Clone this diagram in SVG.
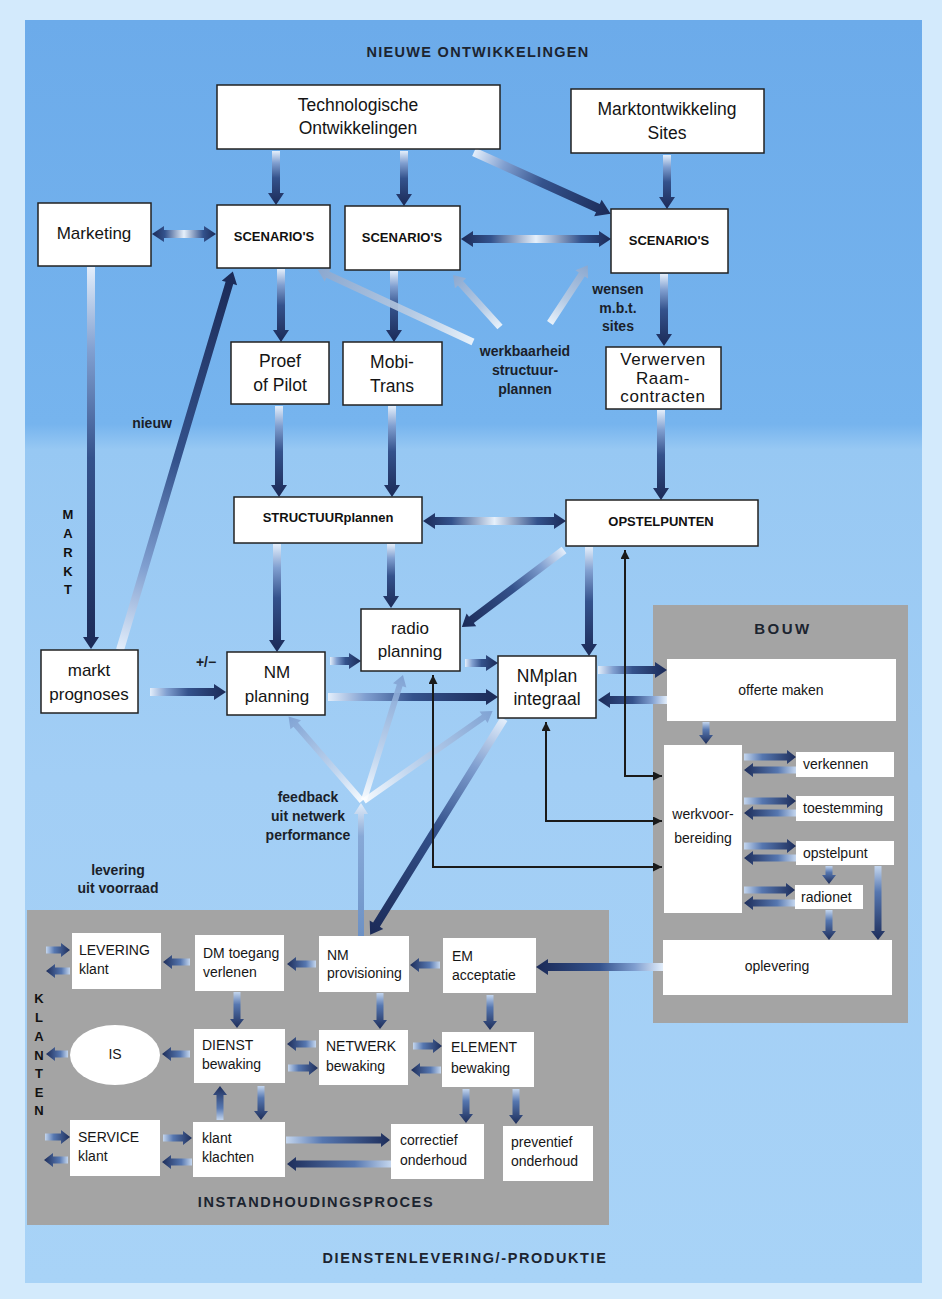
<svg xmlns="http://www.w3.org/2000/svg" width="942" height="1299" viewBox="0 0 942 1299">
  <defs>
    <linearGradient id="bg" x1="0" y1="0" x2="0" y2="1">
      <stop offset="0" stop-color="#6cabea"/>
      <stop offset="0.32" stop-color="#76b4ee"/>
      <stop offset="0.34" stop-color="#97c8f3"/>
      <stop offset="0.6" stop-color="#a2cef5"/>
      <stop offset="1" stop-color="#a8d3f7"/>
    </linearGradient>
    <!-- arrow fills run along local +x (tail to head) -->
    <linearGradient id="gd" x1="0" y1="0" x2="1" y2="0">
      <stop offset="0" stop-color="#e3eefb"/>
      <stop offset="0.22" stop-color="#809fd0"/>
      <stop offset="0.5" stop-color="#34528c"/>
      <stop offset="1" stop-color="#1b2a57"/>
    </linearGradient>
    <linearGradient id="gdd" x1="0" y1="0" x2="1" y2="0">
      <stop offset="0" stop-color="#1b2a57"/>
      <stop offset="0.2" stop-color="#33528c"/>
      <stop offset="0.5" stop-color="#e6f0fb"/>
      <stop offset="0.8" stop-color="#33528c"/>
      <stop offset="1" stop-color="#1b2a57"/>
    </linearGradient>
    <linearGradient id="gs" x1="0" y1="0" x2="1" y2="0">
      <stop offset="0" stop-color="#c4d6ee"/>
      <stop offset="0.35" stop-color="#5677b0"/>
      <stop offset="1" stop-color="#1d2d5a"/>
    </linearGradient>
    <linearGradient id="gf" x1="0" y1="0" x2="1" y2="0">
      <stop offset="0" stop-color="#ffffff"/>
      <stop offset="0.35" stop-color="#c5d7ee"/>
      <stop offset="1" stop-color="#7c9ed0"/>
    </linearGradient>
    <linearGradient id="gfv" x1="0" y1="0" x2="1" y2="0">
      <stop offset="0" stop-color="#6a90c6"/>
      <stop offset="0.75" stop-color="#86a7d5"/>
      <stop offset="1" stop-color="#e6effa"/>
    </linearGradient>
    <linearGradient id="gw" x1="0" y1="0" x2="1" y2="0">
      <stop offset="0" stop-color="#f4f8fc"/>
      <stop offset="0.4" stop-color="#bccde3"/>
      <stop offset="1" stop-color="#8ea7cc"/>
    </linearGradient>
    <marker id="tip" viewBox="0 0 10 10" refX="10" refY="5" markerWidth="11" markerHeight="9" markerUnits="userSpaceOnUse" orient="auto-start-reverse">
      <path d="M0,0L10,5L0,10Z" fill="#1a1a1a"/>
    </marker>
    <style>
      .box { fill: #ffffff; stroke: #222; stroke-width: 1.5; }
      .pbox { fill: #ffffff; }
      .panel { fill: #a4a4a4; }
      .t { font-family: "Liberation Sans", Arial, sans-serif; font-size: 17px; fill: #141414; text-anchor: middle; }
      .tb { font-family: "Liberation Sans", Arial, sans-serif; font-size: 13px; font-weight: bold; fill: #111; text-anchor: middle; }
      .s { font-family: "Liberation Sans", Arial, sans-serif; font-size: 14px; fill: #161616; }
      .sm { font-family: "Liberation Sans", Arial, sans-serif; font-size: 14px; fill: #161616; text-anchor: middle; }
      .lb { font-family: "Liberation Sans", Arial, sans-serif; font-size: 14px; font-weight: bold; fill: #1b1f2a; text-anchor: middle; }
      .title { font-family: "Liberation Sans", Arial, sans-serif; font-size: 14.5px; font-weight: bold; fill: #1c2430; text-anchor: middle; letter-spacing: 1.4px; }
      .a { fill: url(#gd); }
      .d { fill: url(#gdd); }
      .sa { fill: url(#gs); }
      .f { fill: url(#gf); opacity: 0.9; }
      .fv { fill: url(#gfv); opacity: 0.95; }
      .w { fill: url(#gw); opacity: 0.9; }
      .thin { fill: none; stroke: #1a1a1a; stroke-width: 2; marker-start: url(#tip); marker-end: url(#tip); }
    </style>
  </defs>

  <!-- page and background -->
  <rect x="0" y="0" width="942" height="1299" fill="#d3eafc"/>
  <rect x="25" y="20" width="897" height="1263" fill="url(#bg)"/>

  <!-- section titles -->
  <text class="title" x="478" y="57" style="letter-spacing:1.3px">NIEUWE ONTWIKKELINGEN</text>
  <text class="title" x="465" y="1263" style="letter-spacing:1.6px">DIENSTENLEVERING/-PRODUKTIE</text>

  <!-- grey process panels -->
  <g id="panels">
    <rect class="panel" x="653" y="605" width="255" height="418"/>
    <rect class="panel" x="27" y="910" width="582" height="315" fill="#a8a8a8"/>
    <text class="title" x="783" y="634" style="font-size:15px;letter-spacing:2.5px">BOUW</text>
    <text class="title" x="316" y="1207" style="letter-spacing:1.6px">INSTANDHOUDINGSPROCES</text>
  </g>

  <g id="connectors">
    <!-- top layer -->
    <path class="a" transform="translate(276,151) rotate(90)" d="M0,-4H42V-8L54,0L42,8V4H0Z"/>
    <path class="a" transform="translate(404,151) rotate(90)" d="M0,-4H43V-8L55,0L43,8V4H0Z"/>
    <path class="a" transform="translate(474,152) rotate(24.35)" d="M0,-4.5H136V-9L150,0L136,9V4.5H0Z"/>
    <path class="a" transform="translate(667,155) rotate(90)" d="M0,-4H42V-8L54,0L42,8V4H0Z"/>
    <path class="d" transform="translate(152,234)" d="M0,0L12,-8V-4H52V-8L64,0L52,8V4H12V8Z"/>
    <path class="d" transform="translate(461,239)" d="M0,0L12,-8V-4H138V-8L150,0L138,8V4H12V8Z"/>
    <path class="a" transform="translate(281,269) rotate(90)" d="M0,-4H61V-8L73,0L61,8V4H0Z"/>
    <path class="a" transform="translate(394,271) rotate(90)" d="M0,-4H59V-8L71,0L59,8V4H0Z"/>
    <path class="a" transform="translate(664,274) rotate(90)" d="M0,-4H60V-8L72,0L60,8V4H0Z"/>
    <path class="w" transform="translate(473,342) rotate(-155.1)" d="M0,-3.5H160V-7.5L171,0L160,7.5V3.5H0Z"/>
    <path class="w" transform="translate(500,327) rotate(-132.1)" d="M0,-3.5H59V-7.5L70,0L59,7.5V3.5H0Z"/>
    <path class="w" transform="translate(550,323) rotate(-56.8)" d="M0,-3.5H58V-7.5L69,0L58,7.5V3.5H0Z"/>
    <path class="a" transform="translate(279,406) rotate(90)" d="M0,-4H79V-8L91,0L79,8V4H0Z"/>
    <path class="a" transform="translate(392,406) rotate(90)" d="M0,-4H79V-8L91,0L79,8V4H0Z"/>
    <path class="a" transform="translate(661,410) rotate(90)" d="M0,-4H78V-8L90,0L78,8V4H0Z"/>
    <path class="a" transform="translate(91,267) rotate(90)" d="M0,-4H370V-8L382,0L370,8V4H0Z"/>
    <path class="a" transform="translate(120,650) rotate(-73.4)" d="M0,-4H383V-8L395,0L383,8V4H0Z"/>

    <!-- planning layer -->
    <path class="d" transform="translate(423,521)" d="M0,0L12,-8V-4H131V-8L143,0L131,8V4H12V8Z"/>
    <path class="a" transform="translate(277,544) rotate(90)" d="M0,-4H96V-8L108,0L96,8V4H0Z"/>
    <path class="a" transform="translate(391,544) rotate(90)" d="M0,-4H52V-8L64,0L52,8V4H0Z"/>
    <path class="a" transform="translate(564,550) rotate(142.95)" d="M0,-4H116V-8L128,0L116,8V4H0Z"/>
    <path class="a" transform="translate(589,547) rotate(90)" d="M0,-4H97V-8L109,0L97,8V4H0Z"/>
    <path class="a" transform="translate(150,692)" d="M0,-4H64V-8L76,0L64,8V4H0Z"/>
    <path class="a" transform="translate(330,661)" d="M0,-4H19V-8L31,0L19,8V4H0Z"/>
    <path class="a" transform="translate(465,663)" d="M0,-4H21V-8L33,0L21,8V4H0Z"/>
    <path class="a" transform="translate(328,697)" d="M0,-4H158V-8L170,0L158,8V4H0Z"/>
    <path class="a" transform="translate(598,670)" d="M0,-4H57V-8L69,0L57,8V4H0Z"/>
    <path class="a" transform="translate(667,700) rotate(180)" d="M0,-4H57V-8L69,0L57,8V4H0Z"/>

    <!-- feedback from network performance -->
    <path class="fv" transform="translate(361,936) rotate(-90)" d="M0,-3H122V-7L133,0L122,7V3H0Z"/>
    <path class="f" transform="translate(362,801) rotate(-131)" d="M0,-3H101V-7L112,0L101,7V3H0Z"/>
    <path class="f" transform="translate(364,800) rotate(-72.7)" d="M0,-3H120V-7L131,0L120,7V3H0Z"/>
    <path class="f" transform="translate(364,801) rotate(-35)" d="M0,-3H146V-7L157,0L146,7V3H0Z"/>
    <path class="a" transform="translate(504,719) rotate(121.8)" d="M0,-4H242V-8L254,0L242,8V4H0Z"/>
    <path class="a" transform="translate(663,967) rotate(180)" d="M0,-4H115V-8L127,0L115,8V4H0Z"/>

    <!-- thin return lines to werkvoorbereiding -->
    <path class="thin" d="M625,550V776H662"/>
    <path class="thin" d="M546,722V821H662"/>
    <path class="thin" d="M433,675V867H662"/>

    <!-- inside BOUW -->
    <path class="sa" transform="translate(706,722) rotate(90)" d="M0,-3.5H13V-7L22,0L13,7V3.5H0Z"/>
    <path class="sa" transform="translate(744,757)" d="M0,-3.5H43V-7L52,0L43,7V3.5H0Z"/>
    <path class="sa" transform="translate(796,770) rotate(180)" d="M0,-3.5H43V-7L52,0L43,7V3.5H0Z"/>
    <path class="sa" transform="translate(744,801)" d="M0,-3.5H43V-7L52,0L43,7V3.5H0Z"/>
    <path class="sa" transform="translate(796,813) rotate(180)" d="M0,-3.5H43V-7L52,0L43,7V3.5H0Z"/>
    <path class="sa" transform="translate(744,846)" d="M0,-3.5H43V-7L52,0L43,7V3.5H0Z"/>
    <path class="sa" transform="translate(796,858) rotate(180)" d="M0,-3.5H43V-7L52,0L43,7V3.5H0Z"/>
    <path class="sa" transform="translate(744,890)" d="M0,-3.5H42V-7L51,0L42,7V3.5H0Z"/>
    <path class="sa" transform="translate(795,903) rotate(180)" d="M0,-3.5H42V-7L51,0L42,7V3.5H0Z"/>
    <path class="sa" transform="translate(829,866) rotate(90)" d="M0,-3.5H9V-7L18,0L9,7V3.5H0Z"/>
    <path class="sa" transform="translate(829,910) rotate(90)" d="M0,-3.5H21V-7L30,0L21,7V3.5H0Z"/>
    <path class="sa" transform="translate(878,866) rotate(90)" d="M0,-3.5H65V-7L74,0L65,7V3.5H0Z"/>

    <!-- inside INSTANDHOUDINGSPROCES -->
    <path class="sa" transform="translate(46,950)" d="M0,-3.5H15V-7L24,0L15,7V3.5H0Z"/>
    <path class="sa" transform="translate(70,971) rotate(180)" d="M0,-3.5H15V-7L24,0L15,7V3.5H0Z"/>
    <path class="sa" transform="translate(190,962) rotate(180)" d="M0,-3.5H18V-7L27,0L18,7V3.5H0Z"/>
    <path class="sa" transform="translate(316,964) rotate(180)" d="M0,-3.5H20V-7L29,0L20,7V3.5H0Z"/>
    <path class="sa" transform="translate(440,965) rotate(180)" d="M0,-3.5H21V-7L30,0L21,7V3.5H0Z"/>
    <path class="sa" transform="translate(237,992) rotate(90)" d="M0,-3.5H27V-7L36,0L27,7V3.5H0Z"/>
    <path class="sa" transform="translate(380,993) rotate(90)" d="M0,-3.5H27V-7L36,0L27,7V3.5H0Z"/>
    <path class="sa" transform="translate(490,995) rotate(90)" d="M0,-3.5H26V-7L35,0L26,7V3.5H0Z"/>
    <path class="sa" transform="translate(190,1054) rotate(180)" d="M0,-3.5H19V-7L28,0L19,7V3.5H0Z"/>
    <path class="sa" transform="translate(68,1054) rotate(180)" d="M0,-3.5H13V-7L22,0L13,7V3.5H0Z"/>
    <path class="sa" transform="translate(316,1044) rotate(180)" d="M0,-3.5H20V-7L29,0L20,7V3.5H0Z"/>
    <path class="sa" transform="translate(288,1068)" d="M0,-3.5H21V-7L30,0L21,7V3.5H0Z"/>
    <path class="sa" transform="translate(413,1046)" d="M0,-3.5H20V-7L29,0L20,7V3.5H0Z"/>
    <path class="sa" transform="translate(441,1070) rotate(180)" d="M0,-3.5H21V-7L30,0L21,7V3.5H0Z"/>
    <path class="sa" transform="translate(220,1120) rotate(-90)" d="M0,-3.5H25V-7L34,0L25,7V3.5H0Z"/>
    <path class="sa" transform="translate(261,1086) rotate(90)" d="M0,-3.5H25V-7L34,0L25,7V3.5H0Z"/>
    <path class="sa" transform="translate(466,1089) rotate(90)" d="M0,-3.5H25V-7L34,0L25,7V3.5H0Z"/>
    <path class="sa" transform="translate(516,1089) rotate(90)" d="M0,-3.5H26V-7L35,0L26,7V3.5H0Z"/>
    <path class="sa" transform="translate(45,1137)" d="M0,-3.5H16V-7L25,0L16,7V3.5H0Z"/>
    <path class="sa" transform="translate(68,1160) rotate(180)" d="M0,-3.5H15V-7L24,0L15,7V3.5H0Z"/>
    <path class="sa" transform="translate(163,1138)" d="M0,-3.5H20V-7L29,0L20,7V3.5H0Z"/>
    <path class="sa" transform="translate(192,1162) rotate(180)" d="M0,-3.5H21V-7L30,0L21,7V3.5H0Z"/>
    <path class="sa" transform="translate(286,1140)" d="M0,-3.5H95V-7L104,0L95,7V3.5H0Z"/>
    <path class="sa" transform="translate(391,1164) rotate(180)" d="M0,-3.5H95V-7L104,0L95,7V3.5H0Z"/>
  </g>

  <!-- free labels -->
  <g id="labels">
    <text class="lb" x="152" y="428">nieuw</text>
    <text class="lb" x="206" y="667">+/−</text>
    <text class="lb" x="525" y="356">werkbaarheid</text>
    <text class="lb" x="525" y="375">structuur-</text>
    <text class="lb" x="525" y="394">plannen</text>
    <text class="lb" x="618" y="294">wensen</text>
    <text class="lb" x="618" y="313">m.b.t.</text>
    <text class="lb" x="618" y="331">sites</text>
    <text class="lb" x="308" y="802">feedback</text>
    <text class="lb" x="308" y="821">uit netwerk</text>
    <text class="lb" x="308" y="840">performance</text>
    <text class="lb" x="118" y="875">levering</text>
    <text class="lb" x="118" y="893">uit voorraad</text>
    <g class="tb">
      <text x="68" y="519">M</text>
      <text x="68" y="538">A</text>
      <text x="68" y="557">R</text>
      <text x="68" y="576">K</text>
      <text x="68" y="594">T</text>
      <text x="39" y="1003">K</text>
      <text x="39" y="1022">L</text>
      <text x="39" y="1041">A</text>
      <text x="39" y="1060">N</text>
      <text x="39" y="1078">T</text>
      <text x="39" y="1097">E</text>
      <text x="39" y="1115">N</text>
    </g>
  </g>

  <!-- nodes: new developments -->
  <g id="tech">
    <rect class="box" x="217" y="85" width="283" height="64"/>
    <text class="t" x="358" y="111" style="font-size:17.5px">Technologische</text>
    <text class="t" x="358" y="134" style="font-size:17.5px">Ontwikkelingen</text>
  </g>
  <g id="marktontwikkeling">
    <rect class="box" x="571" y="89" width="193" height="64"/>
    <text class="t" x="667" y="115" style="font-size:17.5px">Marktontwikkeling</text>
    <text class="t" x="667" y="139" style="font-size:17.5px">Sites</text>
  </g>
  <g id="marketing">
    <rect class="box" x="38" y="203" width="113" height="63"/>
    <text class="t" x="94" y="239">Marketing</text>
  </g>
  <g id="scenarios1">
    <rect class="box" x="217" y="205" width="113" height="63"/>
    <text class="tb" x="274" y="241">SCENARIO'S</text>
  </g>
  <g id="scenarios2">
    <rect class="box" x="345" y="206" width="115" height="64"/>
    <text class="tb" x="402" y="242">SCENARIO'S</text>
  </g>
  <g id="scenarios3">
    <rect class="box" x="611" y="209" width="117" height="64"/>
    <text class="tb" x="669" y="245">SCENARIO'S</text>
  </g>
  <g id="proef">
    <rect class="box" x="231" y="342" width="98" height="62"/>
    <text class="t" x="280" y="367" style="font-size:17.5px">Proef</text>
    <text class="t" x="280" y="391" style="font-size:17.5px">of Pilot</text>
  </g>
  <g id="mobitrans">
    <rect class="box" x="343" y="342" width="99" height="63"/>
    <text class="t" x="392" y="368" style="font-size:17.5px">Mobi-</text>
    <text class="t" x="392" y="392" style="font-size:17.5px">Trans</text>
  </g>
  <g id="verwerven">
    <rect class="box" x="606" y="347" width="115" height="62"/>
    <text class="t" x="663" y="365" style="letter-spacing:0.6px">Verwerven</text>
    <text class="t" x="663" y="384" style="letter-spacing:0.6px">Raam-</text>
    <text class="t" x="663" y="402" style="letter-spacing:0.6px">contracten</text>
  </g>

  <!-- nodes: planning -->
  <g id="structuurplannen">
    <rect class="box" x="234" y="497" width="188" height="46"/>
    <text class="tb" x="328" y="522">STRUCTUURplannen</text>
  </g>
  <g id="opstelpunten">
    <rect class="box" x="566" y="500" width="192" height="46"/>
    <text class="tb" x="661" y="526">OPSTELPUNTEN</text>
  </g>
  <g id="radioplanning">
    <rect class="box" x="361" y="609" width="99" height="62"/>
    <text class="t" x="410" y="634">radio</text>
    <text class="t" x="410" y="657">planning</text>
  </g>
  <g id="marktprognoses">
    <rect class="box" x="41" y="650" width="97" height="63"/>
    <text class="t" x="89" y="676">markt</text>
    <text class="t" x="89" y="700">prognoses</text>
  </g>
  <g id="nmplanning">
    <rect class="box" x="227" y="652" width="98" height="63"/>
    <text class="t" x="277" y="678">NM</text>
    <text class="t" x="277" y="702">planning</text>
  </g>
  <g id="nmplan">
    <rect class="box" x="498" y="656" width="98" height="62"/>
    <text class="t" x="547" y="682" style="font-size:17.5px">NMplan</text>
    <text class="t" x="547" y="705" style="font-size:17.5px">integraal</text>
  </g>

  <!-- nodes: BOUW -->
  <g id="offerte">
    <rect class="pbox" x="667" y="659" width="229" height="62"/>
    <text class="sm" x="781" y="695">offerte maken</text>
  </g>
  <g id="werkvoorbereiding">
    <rect class="pbox" x="664" y="745" width="78" height="168"/>
    <text class="sm" x="703" y="819">werkvoor-</text>
    <text class="sm" x="703" y="843">bereiding</text>
  </g>
  <g id="verkennen">
    <rect class="pbox" x="796" y="752" width="98" height="25"/>
    <text class="s" x="803" y="769">verkennen</text>
  </g>
  <g id="toestemming">
    <rect class="pbox" x="796" y="796" width="98" height="25"/>
    <text class="s" x="803" y="813">toestemming</text>
  </g>
  <g id="opstelpunt">
    <rect class="pbox" x="796" y="841" width="98" height="24"/>
    <text class="s" x="803" y="858">opstelpunt</text>
  </g>
  <g id="radionet">
    <rect class="pbox" x="795" y="885" width="68" height="24"/>
    <text class="s" x="801" y="902">radionet</text>
  </g>
  <g id="oplevering">
    <rect class="pbox" x="663" y="940" width="229" height="55"/>
    <text class="sm" x="777" y="971">oplevering</text>
  </g>

  <!-- nodes: INSTANDHOUDINGSPROCES -->
  <g id="levering">
    <rect class="pbox" x="72" y="933" width="89" height="56"/>
    <text class="s" x="79" y="955">LEVERING</text>
    <text class="s" x="79" y="974">klant</text>
  </g>
  <g id="dmtoegang">
    <rect class="pbox" x="195" y="935" width="89" height="56"/>
    <text class="s" x="203" y="958">DM toegang</text>
    <text class="s" x="203" y="977">verlenen</text>
  </g>
  <g id="nmprovisioning">
    <rect class="pbox" x="319" y="936" width="90" height="56"/>
    <text class="s" x="327" y="960">NM</text>
    <text class="s" x="327" y="978">provisioning</text>
  </g>
  <g id="emacceptatie">
    <rect class="pbox" x="443" y="938" width="93" height="55"/>
    <text class="s" x="452" y="961">EM</text>
    <text class="s" x="452" y="980">acceptatie</text>
  </g>
  <g id="is">
    <ellipse cx="115" cy="1055" rx="45" ry="30" fill="#ffffff"/>
    <text class="sm" x="115" y="1059">IS</text>
  </g>
  <g id="dienst">
    <rect class="pbox" x="194" y="1029" width="91" height="54"/>
    <text class="s" x="202" y="1050">DIENST</text>
    <text class="s" x="202" y="1069">bewaking</text>
  </g>
  <g id="netwerk">
    <rect class="pbox" x="319" y="1030" width="89" height="55"/>
    <text class="s" x="326" y="1051">NETWERK</text>
    <text class="s" x="326" y="1071">bewaking</text>
  </g>
  <g id="element">
    <rect class="pbox" x="442" y="1032" width="92" height="55"/>
    <text class="s" x="451" y="1052">ELEMENT</text>
    <text class="s" x="451" y="1073">bewaking</text>
  </g>
  <g id="service">
    <rect class="pbox" x="70" y="1120" width="90" height="56"/>
    <text class="s" x="78" y="1142">SERVICE</text>
    <text class="s" x="78" y="1161">klant</text>
  </g>
  <g id="klachten">
    <rect class="pbox" x="193" y="1122" width="92" height="55"/>
    <text class="s" x="202" y="1143">klant</text>
    <text class="s" x="202" y="1162">klachten</text>
  </g>
  <g id="correctief">
    <rect class="pbox" x="391" y="1124" width="93" height="55"/>
    <text class="s" x="400" y="1145">correctief</text>
    <text class="s" x="400" y="1165">onderhoud</text>
  </g>
  <g id="preventief">
    <rect class="pbox" x="503" y="1126" width="90" height="55"/>
    <text class="s" x="511" y="1147">preventief</text>
    <text class="s" x="511" y="1166">onderhoud</text>
  </g>
</svg>
